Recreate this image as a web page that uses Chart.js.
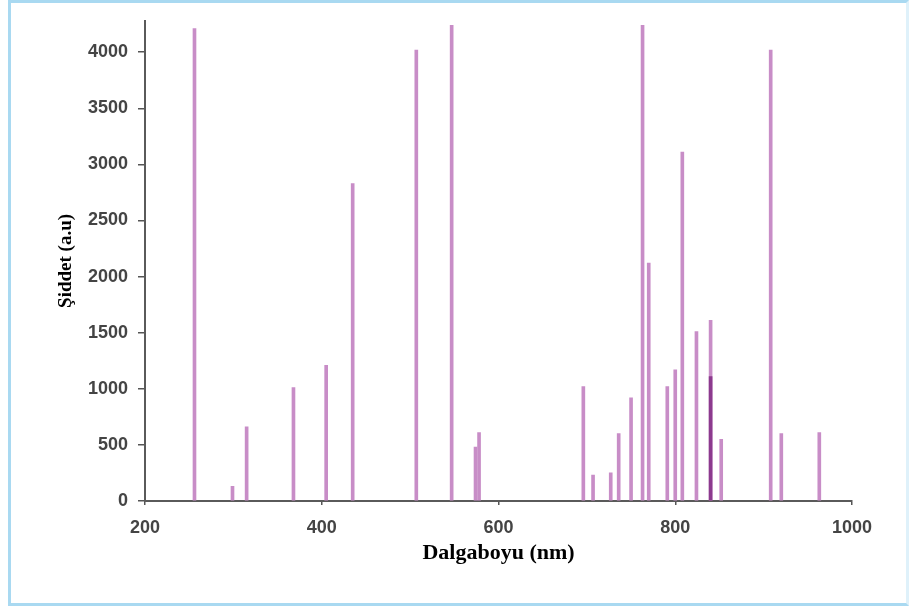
<!DOCTYPE html>
<html>
<head>
<meta charset="utf-8">
<script src="https://cdn.jsdelivr.net/npm/chart.js@4/dist/chart.umd.min.js"></script>
<style>
  html, body { margin: 0; padding: 0; background: #fff; }
  #wrap { position: relative; width: 912px; height: 610px; }
  #frame {
    position: absolute; left: 8px; top: 0; width: 895px; height: 600px;
    border: 3px solid #a9d9f1; border-right-color: #dff1fa;
    pointer-events: none;
  }
</style>
</head>
<body>
<div id="wrap">
  <canvas id="spectrumChart" width="912" height="610"></canvas>
  <div id="frame"></div>
</div>
<script>
// line positions (nm) and intensities (a.u.)
const wavelengths = [256, 299, 315, 368, 405, 435, 507, 547, 574, 578, 696, 707, 727, 736, 750, 763, 770, 791, 800, 808, 824, 840, 852, 908, 920, 963];
const intensities = [4210, 130, 660, 1010, 1210, 2830, 4020, 4240, 480, 610, 1020, 230, 250, 600, 920, 4240, 2120, 1020, 1170, 3110, 1510, 1610, 550, 4020, 600, 610];
// darker line drawn over the 840 nm one
const darkWavelengths = [840];
const darkIntensities = [1110];

const xTicks = [200, 400, 600, 800, 1000];
const yTicks = [0, 500, 1000, 1500, 2000, 2500, 3000, 3500, 4000];

const tickFont = { family: "'Liberation Sans', Arial, sans-serif", size: 18, weight: 'bold' };
const titleFont = { family: "'Liberation Serif', 'Times New Roman', serif", weight: 'bold' };

document.addEventListener("DOMContentLoaded", function () {
    const ctx = document.getElementById('spectrumChart').getContext('2d');
    new Chart(ctx, {
        type: 'bar',
        data: {
            datasets: [{
                data: darkWavelengths.map((w, i) => ({ x: w, y: darkIntensities[i] })),
                backgroundColor: '#8c3a8e',
                barThickness: 3,
                grouped: false,
                order: 0
            }, {
                data: wavelengths.map((w, i) => ({ x: w, y: intensities[i] })),
                backgroundColor: '#c88dc7',
                barThickness: 3,
                grouped: false,
                order: 1
            }]
        },
        options: {
            responsive: false,
            animation: false,
            layout: { padding: { left: 0, top: 20, right: 60, bottom: 0 } },
            plugins: { legend: { display: false }, tooltip: { enabled: false } },
            scales: {
                x: {
                    type: 'linear',
                    offset: false,
                    min: 200,
                    max: 1000,
                    afterFit: s => { s.height = 109; },
                    afterBuildTicks: s => { s.ticks = xTicks.map(v => ({ value: v })); },
                    grid: { offset: false, drawOnChartArea: false, drawTicks: true, tickLength: 4, color: '#555', lineWidth: 1.5 },
                    border: { display: true, color: '#5a5a5a', width: 2 },
                    ticks: { font: tickFont, color: '#444', padding: 12, maxRotation: 0, callback: v => String(v) },
                    title: { display: true, text: 'Dalgaboyu (nm)', color: '#000', font: { ...titleFont, size: 22 }, padding: { bottom: 43 } }
                },
                y: {
                    min: 0,
                    max: 4280,
                    afterFit: s => { s.width = 145; },
                    afterBuildTicks: s => { s.ticks = yTicks.map(v => ({ value: v })); },
                    grid: { offset: false, drawOnChartArea: false, drawTicks: true, tickLength: 7, color: '#555', lineWidth: 1.5 },
                    border: { display: true, color: '#5a5a5a', width: 2 },
                    ticks: { font: tickFont, color: '#444', padding: 10, callback: v => String(v) },
                    title: { display: true, text: 'Şiddet (a.u)', color: '#000', font: { ...titleFont, size: 19 }, padding: { top: 55 } }
                }
            }
        }
    });
});
</script>
</body>
</html>
